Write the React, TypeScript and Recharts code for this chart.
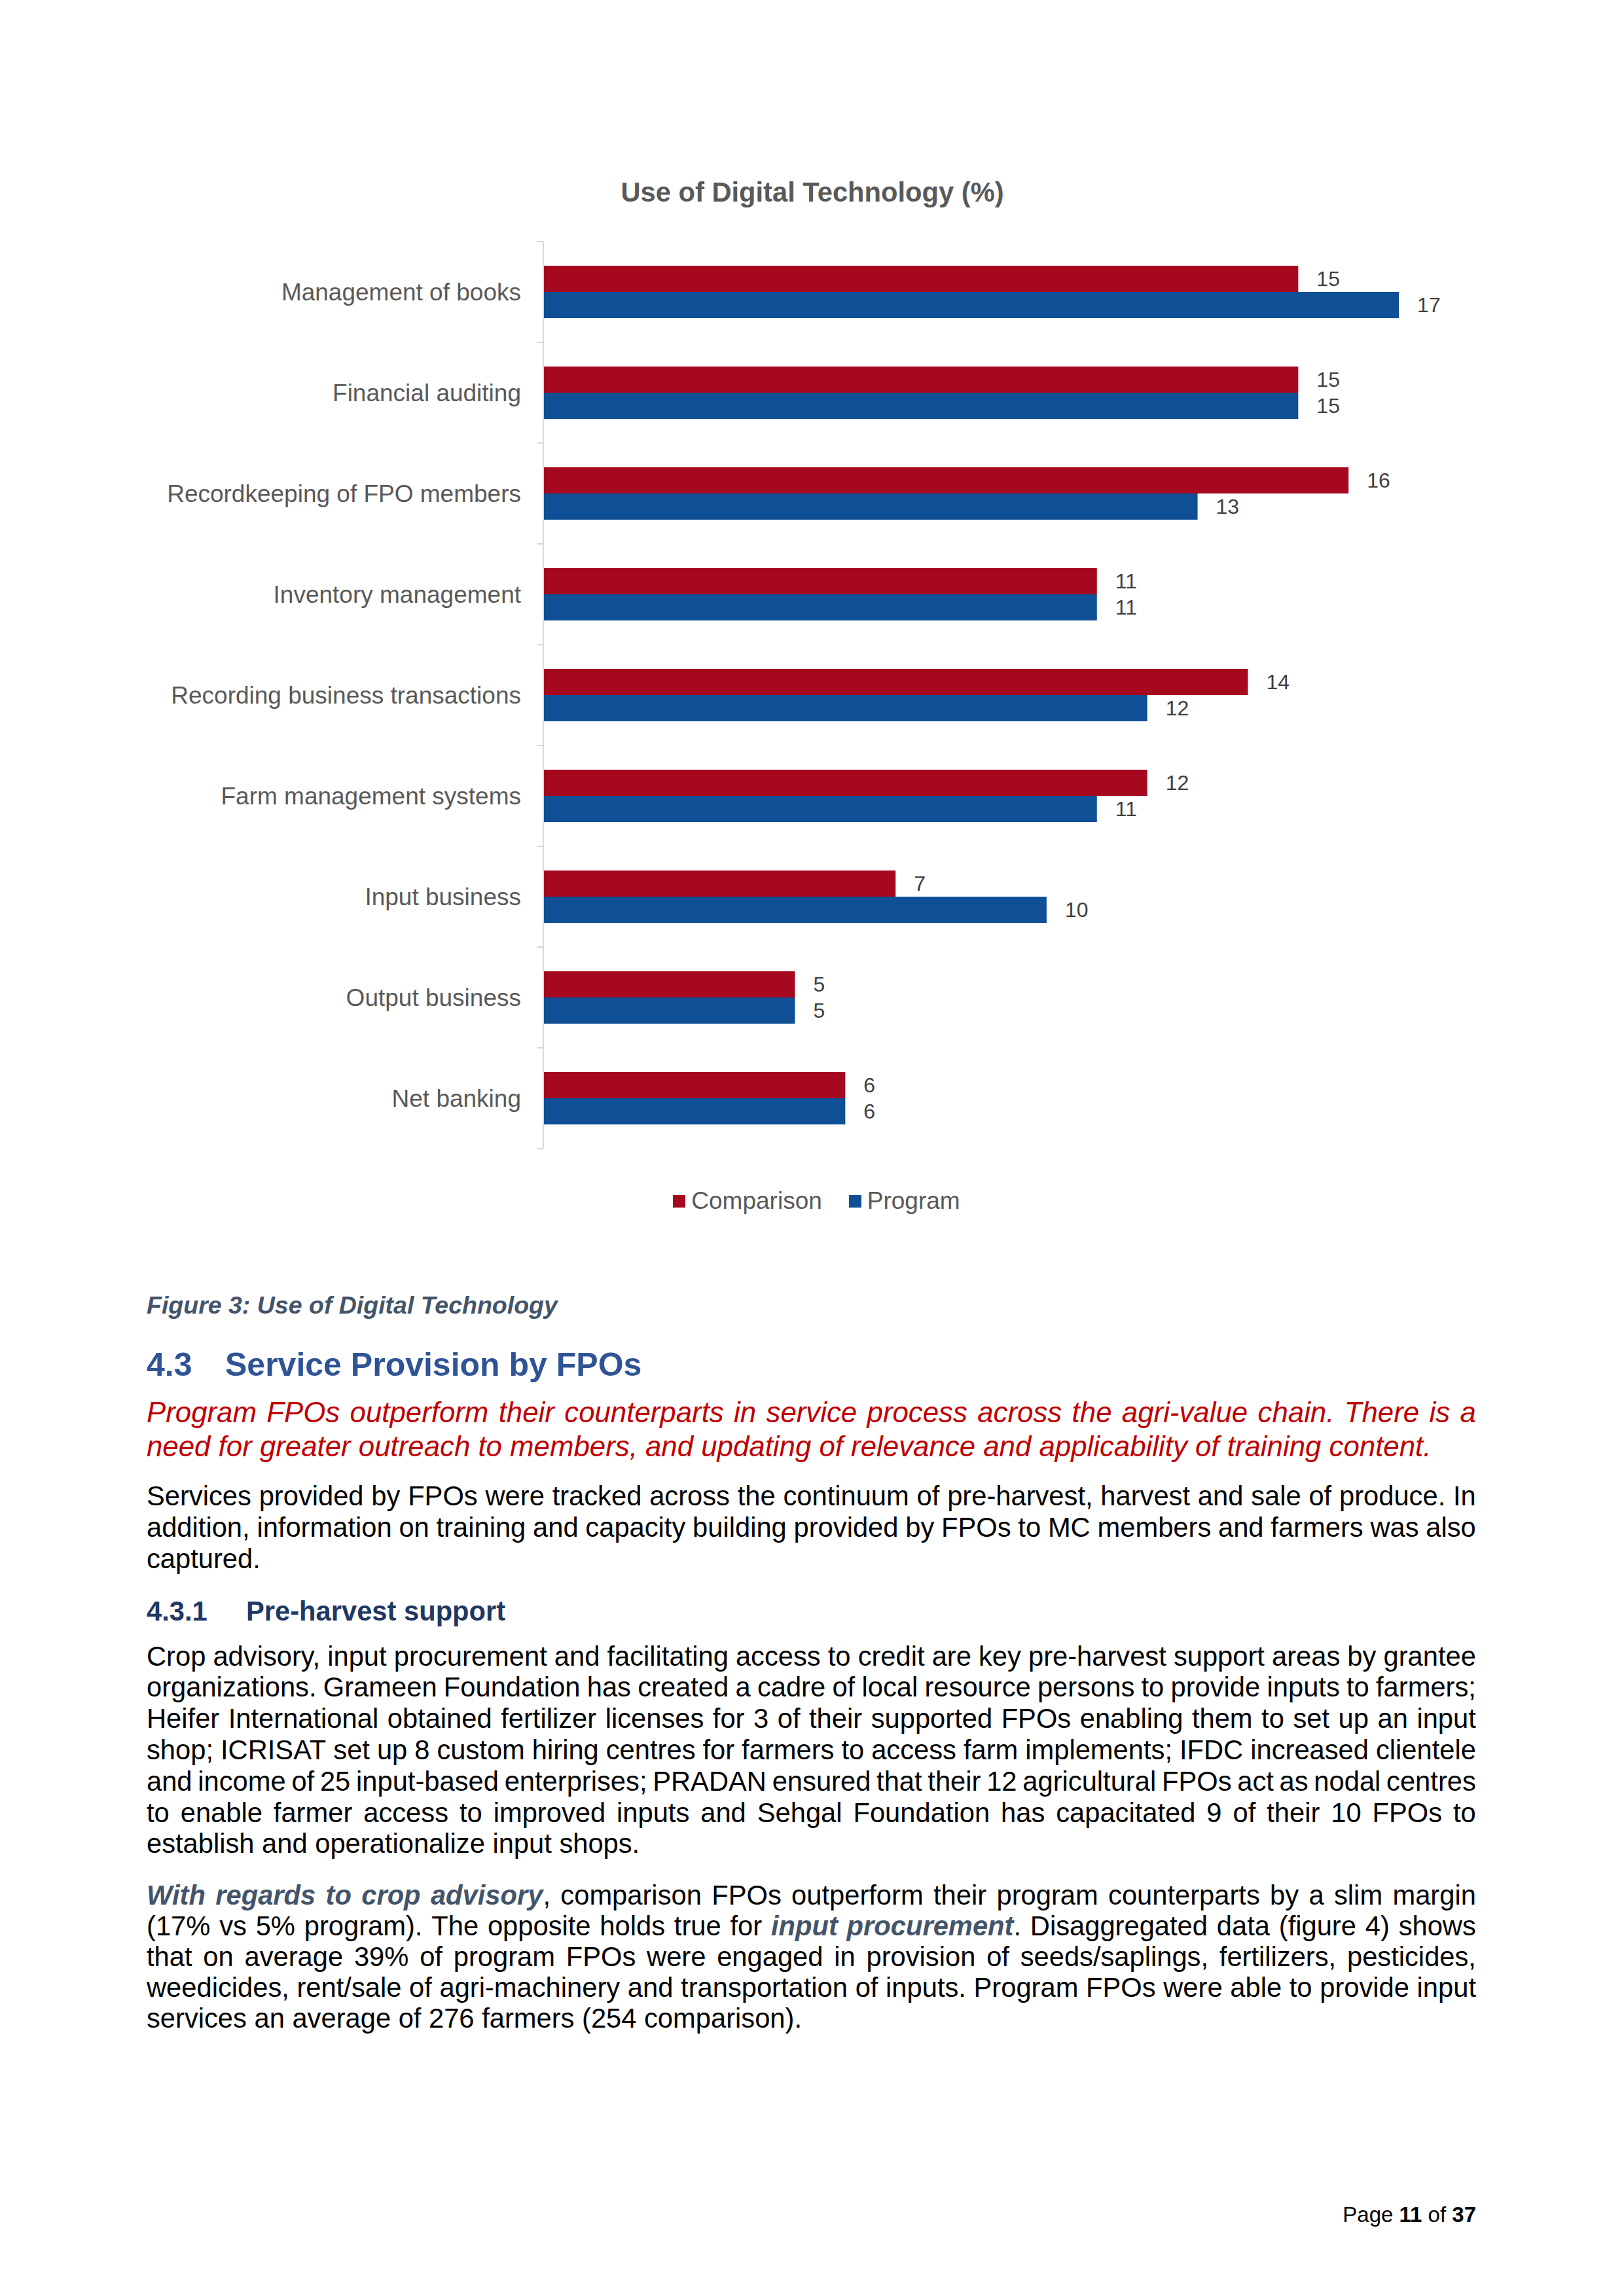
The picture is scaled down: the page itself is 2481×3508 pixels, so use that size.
import React from "react";
import { BarChart, Bar, XAxis, YAxis, Legend, LabelList } from "recharts";

const categories = [
  "Management of books",
  "Financial auditing",
  "Recordkeeping of FPO members",
  "Inventory management",
  "Recording business transactions",
  "Farm management systems",
  "Input business",
  "Output business",
  "Net banking",
];
const comparison = [15, 15, 16, 11, 14, 12, 7, 5, 6];
const program = [17, 15, 13, 11, 12, 11, 10, 5, 6];

const data = categories.map((name, i) => ({
  name,
  comparison: comparison[i],
  program: program[i],
}));

const FONT = '"Liberation Sans", Arial, Helvetica, sans-serif';
const RED = "#A6091F";
const BLUE = "#0F4F95";
const AXIS_GRAY = "#D9D9D9";

// chart geometry
const CHART_W = 2481;
const CHART_H = 1705;
const PLOT_TOP = 139;
const PLOT_H = 1386;
const BAND = PLOT_H / categories.length;
const LABEL_GAP = 34;

const CategoryTick = (props: any) => {
  const { x, y, payload, index } = props;
  const axisX = x + LABEL_GAP;
  const half = BAND / 2;
  return (
    <g>
      <text
        x={x}
        y={y}
        textAnchor="end"
        dominantBaseline="central"
        fill="#595959"
        fontSize={37}
        fontFamily={FONT}
      >
        {payload.value}
      </text>
      <line x1={axisX - 10} x2={axisX} y1={y - half} y2={y - half} stroke={AXIS_GRAY} strokeWidth={2} />
      {index === categories.length - 1 && (
        <line x1={axisX - 10} x2={axisX} y1={y + half} y2={y + half} stroke={AXIS_GRAY} strokeWidth={2} />
      )}
    </g>
  );
};

const LegendContent = (props: any) => {
  const { payload } = props;
  return (
    <div
      style={{
        display: "flex",
        justifyContent: "center",
        alignItems: "center",
        height: 60,
        paddingLeft: 14,
        fontFamily: FONT,
        fontSize: 37,
        color: "#595959",
      }}
    >
      {(payload || []).map((entry: any, i: number) => (
        <div key={i} style={{ display: "flex", alignItems: "center", marginRight: i === 0 ? 41 : 0 }}>
          <span style={{ display: "inline-block", width: 19, height: 19, background: entry.color, marginRight: 9 }} />
          <span>{entry.value}</span>
        </div>
      ))}
    </div>
  );
};

const body: React.CSSProperties = {
  position: "absolute",
  left: 224,
  width: 2031,
  fontFamily: FONT,
  fontSize: 41.7,
  lineHeight: "47.8px",
  color: "#000",
};

const em: React.CSSProperties = { fontWeight: "bold", fontStyle: "italic", color: "#44546A" };

type Part = { t: string; em?: boolean };

// justified line: words spread with flex so spaces can shrink like in Word
const J = ({ parts, text }: { parts?: Part[]; text?: string }) => {
  const ps: Part[] = parts || [{ t: text || "" }];
  const words: Part[][] = [];
  let cur: Part[] = [];
  ps.forEach((p) => {
    p.t.split(" ").forEach((w, k) => {
      if (k > 0) {
        if (cur.length) words.push(cur);
        cur = [];
      }
      if (w) cur.push({ t: w, em: p.em });
    });
  });
  if (cur.length) words.push(cur);
  return (
    <div style={{ display: "flex", justifyContent: "space-between", whiteSpace: "nowrap" }}>
      {words.map((w, i) => (
        <span key={i}>
          {w.map((s, j) => (
            <span key={j} style={s.em ? em : undefined}>
              {s.t}
            </span>
          ))}
        </span>
      ))}
    </div>
  );
};
const L = ({ children }: { children: React.ReactNode }) => (
  <div style={{ textAlign: "left", whiteSpace: "nowrap" }}>{children}</div>
);

export default function App() {
  return (
    <div
      style={{
        position: "absolute",
        left: 0,
        top: 0,
        width: 2481,
        height: 3508,
        background: "#fff",
        fontFamily: FONT,
        overflow: "hidden",
      }}
    >
      <div
        style={{
          position: "absolute",
          left: 0,
          top: 269.5,
          width: 2482,
          textAlign: "center",
          fontSize: 41.7,
          lineHeight: "48px",
          fontWeight: "bold",
          color: "#595959",
        }}
      >
        Use of Digital Technology (%)
      </div>

      <div style={{ position: "absolute", left: 0, top: 230 }}>
        <BarChart
          width={CHART_W}
          height={CHART_H}
          data={data}
          layout="vertical"
          barGap={0}
          margin={{ top: PLOT_TOP, right: 267, bottom: 120, left: 0 }}
          style={{ fontFamily: FONT }}
        >
          <XAxis type="number" domain={[0, 18]} hide />
          <YAxis
            type="category"
            dataKey="name"
            width={830}
            axisLine={{ stroke: AXIS_GRAY, strokeWidth: 2 }}
            tickLine={false}
            tickSize={6}
            tickMargin={28}
            tick={<CategoryTick />}
            interval={0}
          />
          <Legend
            verticalAlign="bottom"
            content={<LegendContent />}
            wrapperStyle={{ top: 1575, left: 0, width: CHART_W, height: 60 }}
          />
          <Bar dataKey="comparison" name="Comparison" fill={RED} barSize={40} isAnimationActive={false}>
            <LabelList dataKey="comparison" position="right" offset={28} fill="#404040" fontSize={32} fontFamily={FONT} />
          </Bar>
          <Bar dataKey="program" name="Program" fill={BLUE} barSize={40} isAnimationActive={false}>
            <LabelList dataKey="program" position="right" offset={28} fill="#404040" fontSize={32} fontFamily={FONT} />
          </Bar>
        </BarChart>
      </div>

      <div
        style={{
          position: "absolute",
          left: 224,
          top: 1972.5,
          fontSize: 37.5,
          lineHeight: "43px",
          fontWeight: "bold",
          fontStyle: "italic",
          color: "#44546A",
          whiteSpace: "nowrap",
        }}
      >
        Figure 3: Use of Digital Technology
      </div>

      <div
        style={{
          position: "absolute",
          left: 224,
          top: 2057,
          fontSize: 50,
          lineHeight: "57.5px",
          fontWeight: "bold",
          color: "#2F5496",
          whiteSpace: "nowrap",
        }}
      >
        <span style={{ display: "inline-block", width: 120 }}>4.3</span>
        <span>Service Provision by FPOs</span>
      </div>

      <div
        style={{ ...body, top: 2131.8, fontSize: 43.8, lineHeight: "52px", fontStyle: "italic", color: "#C00000" }}
      >
        <J text="Program FPOs outperform their counterparts in service process across the agri-value chain. There is a" />
        <L>need for greater outreach to members, and updating of relevance and applicability of training content.</L>
      </div>

      <div style={{ ...body, top: 2261.5, lineHeight: "48.3px" }}>
        <J text="Services provided by FPOs were tracked across the continuum of pre-harvest, harvest and sale of produce. In" />
        <J text="addition, information on training and capacity building provided by FPOs to MC members and farmers was also" />
        <L>captured.</L>
      </div>

      <div
        style={{
          ...body,
          top: 2437.5,
          lineHeight: "48px",
          fontWeight: "bold",
          color: "#1F3864",
          whiteSpace: "nowrap",
        }}
      >
        <span style={{ display: "inline-block", width: 152 }}>4.3.1</span>
        <span>Pre-harvest support</span>
      </div>

      <div style={{ ...body, top: 2506.7 }}>
        <J text="Crop advisory, input procurement and facilitating access to credit are key pre-harvest support areas by grantee" />
        <J text="organizations. Grameen Foundation has created a cadre of local resource persons to provide inputs to farmers;" />
        <J text="Heifer International obtained fertilizer licenses for 3 of their supported FPOs enabling them to set up an input" />
        <J text="shop; ICRISAT set up 8 custom hiring centres for farmers to access farm implements; IFDC increased clientele" />
        <J text="and income of 25 input-based enterprises; PRADAN ensured that their 12 agricultural FPOs act as nodal centres" />
        <J text="to enable farmer access to improved inputs and Sehgal Foundation has capacitated 9 of their 10 FPOs to" />
        <L>establish and operationalize input shops.</L>
      </div>

      <div style={{ ...body, top: 2872, lineHeight: "47px" }}>
        <J
          parts={[
            { t: "With regards to crop advisory", em: true },
            { t: ", comparison FPOs outperform their program counterparts by a slim margin" },
          ]}
        />
        <J
          parts={[
            { t: "(17% vs 5% program). The opposite holds true for " },
            { t: "input procurement", em: true },
            { t: ". Disaggregated data (figure 4) shows" },
          ]}
        />
        <J text="that on average 39% of program FPOs were engaged in provision of seeds/saplings, fertilizers, pesticides," />
        <J text="weedicides, rent/sale of agri-machinery and transportation of inputs. Program FPOs were able to provide input" />
        <L>services an average of 276 farmers (254 comparison).</L>
      </div>

      <div
        style={{
          position: "absolute",
          right: 2481 - 2255,
          top: 3364.5,
          fontSize: 33,
          lineHeight: "38px",
          color: "#000",
          whiteSpace: "nowrap",
        }}
      >
        Page <b>11</b> of <b>37</b>
      </div>
    </div>
  );
}
